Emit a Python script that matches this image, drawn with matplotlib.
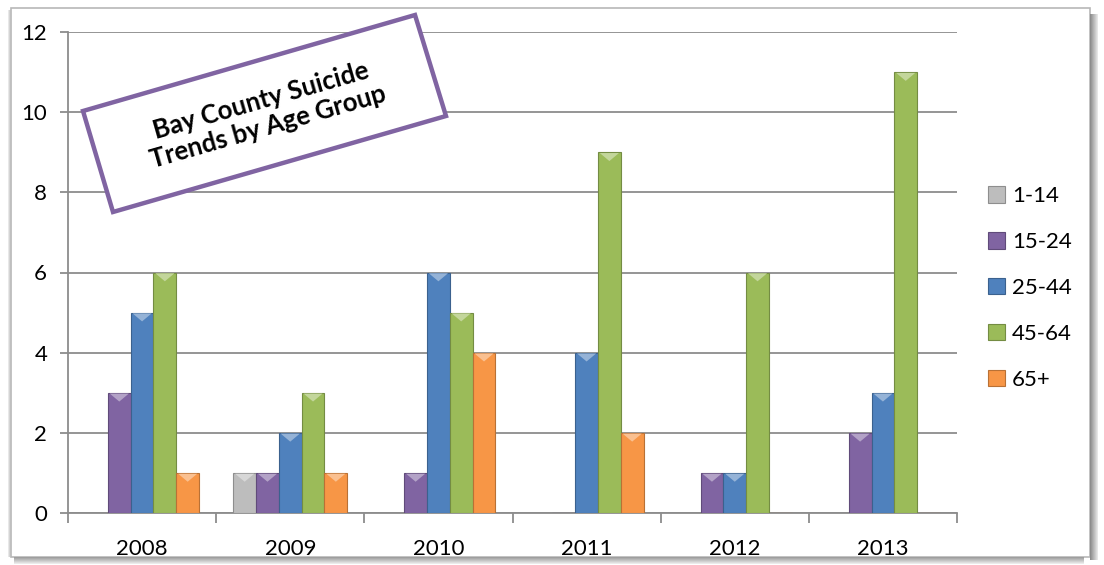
import matplotlib
matplotlib.use("Agg")
import matplotlib.pyplot as plt
import numpy as np
from matplotlib.patches import Patch, Polygon, Rectangle
import matplotlib.colors as mcolors

years = ["2008", "2009", "2010", "2011", "2012", "2013"]
groups = ["1-14", "15-24", "25-44", "45-64", "65+"]
v_1_14 = [0, 1, 0, 0, 0, 0]
v_15_24 = [3, 1, 1, 0, 1, 2]
v_25_44 = [5, 2, 6, 4, 1, 3]
v_45_64 = [6, 3, 5, 9, 6, 11]
v_65p = [1, 1, 4, 2, 0, 0]
series = [v_1_14, v_15_24, v_25_44, v_45_64, v_65p]
colors = ["#BDBDBD", "#8064A2", "#4F81BD", "#9BBB59", "#F79646"]
yticks = [0, 2, 4, 6, 8, 10, 12]
title_text = "Bay County Suicide\nTrends by Age Group"

W, H = 1104, 565
fig = plt.figure(figsize=(W / 100, H / 100), dpi=100)
fig.patch.set_facecolor("white")
font = "Lato"
plt.rcParams["font.family"] = [font, "DejaVu Sans"]
FS = 16

def fx(x):
    return x / W

def fy(y):
    return 1 - y / H

ax = fig.add_axes([fx(68), fy(513), fx(957) - fx(68), fy(32) - fy(513)])
ax.set_facecolor("none")

n = len(series)
x = np.arange(len(years))
gap = 1.5
w = 1.0 / (n + gap)
grid_c = "#8C8C8C"


def darker(c, f=0.7):
    r, g, b = mcolors.to_rgb(c)
    return (r * f, g * f, b * f)


def lighter(c, f=0.45):
    r, g, b = mcolors.to_rgb(c)
    return (r + (1 - r) * f, g + (1 - g) * f, b + (1 - b) * f)


ax.set_ylim(0, 12)
ax.set_xlim(-0.5, len(years) - 0.5)

for i, (vals, c) in enumerate(zip(series, colors)):
    offs = (i - (n - 1) / 2) * w
    bars = ax.bar(x + offs, vals, width=w, color=c, edgecolor=darker(c, 0.75),
                  linewidth=0.8, zorder=3)
    for b in bars:
        h = b.get_height()
        if h <= 0:
            continue
        x0 = b.get_x()
        bw = b.get_width()
        depth = 0.22
        tri = Polygon([[x0 + bw * 0.08, h - 0.02], [x0 + bw * 0.92, h - 0.02],
                       [x0 + bw / 2, h - depth]], closed=True,
                      facecolor=lighter(c, 0.4), edgecolor="none", zorder=4)
        ax.add_patch(tri)

ax.set_yticks(yticks)
ax.set_yticklabels([str(t) for t in yticks], fontsize=FS, fontfamily=font)
ax.yaxis.grid(True, color=grid_c, linewidth=1.3, zorder=0)
ax.set_axisbelow(True)
ax.tick_params(axis="y", length=6, width=1.3, color=grid_c, pad=9)

ax.set_xticks(np.arange(-0.5, len(years) + 0.5, 1.0))
ax.set_xticklabels([])
ax.set_xticks(x, minor=True)
ax.set_xticklabels(years, minor=True, fontsize=FS, fontfamily=font)
ax.tick_params(axis="x", which="major", length=7, width=1.3, color=grid_c)
ax.tick_params(axis="x", which="minor", length=0, pad=19)

for s in ["top", "right"]:
    ax.spines[s].set_visible(False)
for s in ["left", "bottom"]:
    ax.spines[s].set_color(grid_c)
    ax.spines[s].set_linewidth(1.3)

handles = [Patch(facecolor=c, edgecolor=darker(c, 0.75), linewidth=0.8) for c in colors]
leg = fig.legend(handles, groups, loc="center left",
                 bbox_to_anchor=(fx(988), fy(288)), bbox_transform=fig.transFigure,
                 frameon=False, handlelength=0.76, handleheight=0.76,
                 handletextpad=0.32, labelspacing=1.16, borderpad=0, borderaxespad=0,
                 prop={"family": font, "size": FS})

# frame with shadow
fig.patches.append(Rectangle((fx(11), fy(557)), fx(1090) - fx(11), fy(8) - fy(557),
                             transform=fig.transFigure, facecolor="none",
                             edgecolor="#B8B8B8", linewidth=1.2, zorder=0))
for k in range(8):
    g = 0.55 + 0.05 * k
    fig.patches.append(Rectangle((fx(1090 + k), fy(560)), fx(1), fy(14) - fy(560),
                                 transform=fig.transFigure, facecolor=(g, g, g),
                                 edgecolor="none", zorder=0))
for k in range(7):
    g = 0.62 + 0.05 * k
    fig.patches.append(Rectangle((fx(14), fy(558 + k)), fx(1084) - fx(14), 1 / H,
                                 transform=fig.transFigure, facecolor=(g, g, g),
                                 edgecolor="none", zorder=0))
for k in range(3):
    g = 0.75 + 0.08 * k
    fig.patches.append(Rectangle((fx(10 - k), fy(557)), 1 / W, fy(10) - fy(557),
                                 transform=fig.transFigure, facecolor=(g, g, g),
                                 edgecolor="none", zorder=0))

# rotated title box
corners = [(83, 111), (415, 15), (446, 116), (113, 212)]
poly = Polygon([[fx(a), fy(b)] for a, b in corners], closed=True,
               transform=fig.transFigure, facecolor="white", edgecolor="#8064A2",
               linewidth=3.2, zorder=10)
fig.patches.append(poly)
cx = np.mean([c[0] for c in corners])
cy = np.mean([c[1] for c in corners])
fig.text(fx(cx), fy(cy), title_text, rotation=16, rotation_mode="anchor",
         ha="center", va="center", multialignment="center", fontsize=18.5,
         fontweight="bold", fontfamily=font, linespacing=1.15, zorder=11)

fig.savefig("out.png", dpi=100)
